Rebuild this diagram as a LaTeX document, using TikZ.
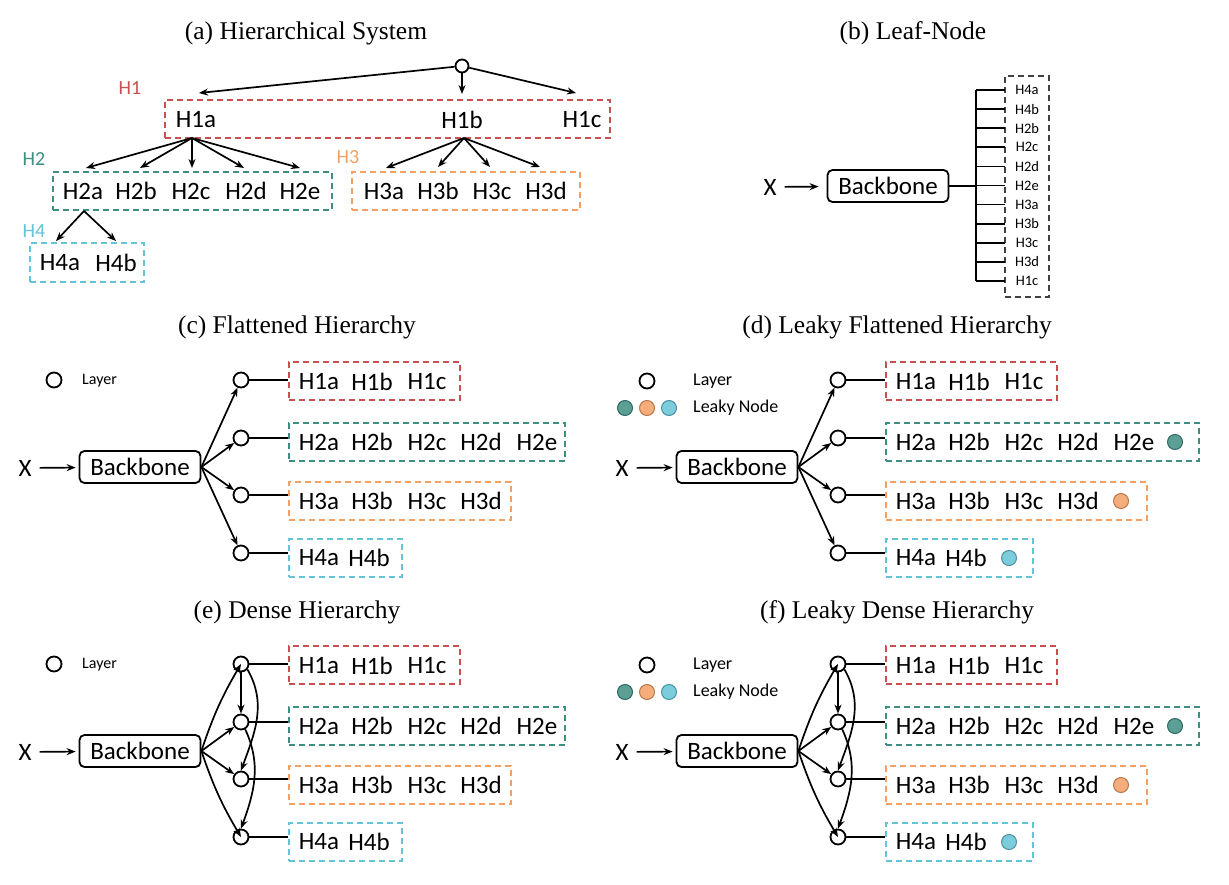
\documentclass[tikz,border=0pt]{standalone}
\usepackage{fontspec}
\setmainfont{Liberation Serif}
\newfontfamily\carl{Carlito}
\usetikzlibrary{arrows.meta,calc}
\definecolor{hred}{HTML}{C85050}
\definecolor{hteal}{HTML}{3E8E82}
\definecolor{horange}{HTML}{F3A064}
\definecolor{hcyan}{HTML}{64C3D7}
\definecolor{hgray}{HTML}{404040}
\tikzset{
 ttl/.style={font=\fontsize{25.5}{30}\selectfont, inner sep=0},
 lbl/.style={font=\carl\fontsize{25}{28}\selectfont, inner sep=0},
 hlvl/.style={font=\carl\fontsize{20}{24}\selectfont, inner sep=0},
 leafl/.style={font=\carl\fontsize{14.5}{16}\selectfont, inner sep=0},
 legtxt/.style={font=\carl\fontsize{17}{20}\selectfont, inner sep=0, anchor=west},
 hbox/.style={draw=#1, dash pattern=on 6pt off 4pt, line width=1.8pt, minimum height=38pt, inner sep=0},
 layer/.style={circle, draw, line width=1.8pt, minimum size=15pt, inner sep=0, fill=white},
 leaky/.style={circle, draw=#1!75!black, fill=#1!85!white, line width=1pt, minimum size=15pt, inner sep=0},
 arr/.style={-{Stealth[length=9pt,width=7pt]}, line width=1.7pt},
 ln/.style={line width=1.7pt},
 bbox/.style={draw, rounded corners=5pt, line width=1.8pt, minimum width=121pt, minimum height=32pt, inner sep=0, font=\carl\fontsize{25}{28}\selectfont},
}
% #1 width box2, #2 width box3, #3 width box4, #4 leaky (0/1), #5 dense (0/1)
\newcommand\flatpanel[5]{%
 \node[lbl] (X) at (25,468) {X};
 \node[bbox] (bb) at (140,467) {Backbone};
 \draw[arr, shorten <=8pt, shorten >=3pt] (X) -- (bb);
 \node[layer] (L1) at (241,380) {};
 \node[layer] (L2) at (241,438) {};
 \node[layer] (L3) at (241,495) {};
 \node[layer] (L4) at (241,553) {};
 \node[hbox=hred, minimum width=171pt] (B1) at (374.5,381) {};
 \node[hbox=hteal, minimum width=#1pt] (B2) at ({289+#1/2},442) {};
 \node[hbox=horange, minimum width=#2pt] (B3) at ({289+#2/2},501) {};
 \node[hbox=hcyan, minimum width=#3pt] (B4) at ({289+#3/2},558) {};
 \node[lbl] (t1a) at (319,382) {H1a};
 \node[lbl] (t1b) at (372,382) {H1b};
 \node[lbl] (t1c) at (427,382) {H1c};
 \node[lbl] (t2a) at (319,442) {H2a};
 \node[lbl] (t2b) at (372,442) {H2b};
 \node[lbl] (t2c) at (427,442) {H2c};
 \node[lbl] (t2d) at (481,442) {H2d};
 \node[lbl] (t2e) at (537,442) {H2e};
 \node[lbl] (t3a) at (319,501) {H3a};
 \node[lbl] (t3b) at (372,501) {H3b};
 \node[lbl] (t3c) at (427,501) {H3c};
 \node[lbl] (t3d) at (481,501) {H3d};
 \node[lbl] (t4a) at (319,558) {H4a};
 \node[lbl] (t4b) at (369,558) {H4b};
 \draw[ln] (L1.east) -- (L1 -| B1.west);
 \draw[ln] (L2.east) -- (L2 -| B2.west);
 \draw[ln] (L3.east) -- (L3 -| B3.west);
 \draw[ln] (L4.east) -- (L4 -| B4.west);
 \ifnum#5=1
  \draw[arr] (bb.east) to[bend left=6] (L1);
  \draw[arr] (bb.east) -- (L2);
  \draw[arr] (bb.east) -- (L3);
  \draw[arr] (bb.east) to[bend right=6] (L4);
  \draw[arr] (L1) -- (L2);
  \draw[arr] (L1.-40) to[out=-60,in=70] (L3.north);
  \draw[arr] (L2.-60) to[out=-65,in=70] (L4.north);
 \else
  \draw[arr] (bb.east) -- (L1);
  \draw[arr] (bb.east) -- (L2);
  \draw[arr] (bb.east) -- (L3);
  \draw[arr] (bb.east) -- (L4);
 \fi
 \ifnum#4=1
  \node[layer] (lg0) at (50,381) {};
  \node[legtxt, font=\carl\fontsize{18}{20}\selectfont] (lgt0) at (96,381) {Layer};
  \node[leaky=hteal] (lg1) at (28,408) {};
  \node[leaky=horange] (lg2) at (50,408) {};
  \node[leaky=hcyan] (lg3) at (72,408) {};
  \node[legtxt, font=\carl\fontsize{18}{20}\selectfont] (lgt1) at (96,408) {Leaky Node};
  \node[leaky=hteal] (k2) at (578,442) {};
  \node[leaky=horange] (k3) at (524,501) {};
  \node[leaky=hcyan] (k4) at (412,558) {};
 \else
  \node[layer] (lg0) at (54,380) {};
  \node[legtxt, font=\carl\fontsize{16}{20}\selectfont] (lgt0) at (82,381) {Layer};
 \fi
}
\begin{document}
\begin{tikzpicture}[x=1pt,y=-1pt]
\useasboundingbox[fill=white] (0,0) rectangle (1229,885);
% ---------- (a)
\node[ttl] (ta) at (306,33) {(a) Hierarchical System};
\node[layer, minimum size=13pt] (root) at (462,66) {};
\node[hlvl, text=hred] (lh1) at (130,88) {H1};
\node[hbox=hred, minimum width=445pt] (a1) at (387.5,119) {};
\node[lbl] (a1a) at (196,120) {H1a};
\node[lbl] (a1b) at (462,120) {H1b};
\node[lbl] (a1c) at (582,120) {H1c};
\coordinate (e1a) at (199,93);
\coordinate (e1b) at (462,94);
\coordinate (e1c) at (576,93);
\draw[arr] (root) -- (e1a);
\draw[arr] (root) -- (e1b);
\draw[arr] (root) -- (e1c);
\node[hlvl, text=hteal] (lh2) at (34,159) {H2};
\node[hbox=hteal, minimum width=279pt] (a2) at (192.5,191) {};
\node[lbl] (a2a) at (83,191) {H2a};
\node[lbl] (a2b) at (136,191) {H2b};
\node[lbl] (a2c) at (191,191) {H2c};
\node[lbl] (a2d) at (246,191) {H2d};
\node[lbl] (a2e) at (300,191) {H2e};
\coordinate (s2) at (192,138);
\coordinate (e2a) at (86,168);
\coordinate (e2b) at (140,168);
\coordinate (e2c) at (192,168);
\coordinate (e2d) at (244,168);
\coordinate (e2e) at (300,168);
\foreach \k in {a,b,c,d,e} {\draw[arr] (s2) -- (e2\k);}
\node[hlvl, text=horange] (lh3) at (348,157) {H3};
\node[hbox=horange, minimum width=228pt] (a3) at (466,191) {};
\node[lbl] (a3a) at (384,191) {H3a};
\node[lbl] (a3b) at (438,191) {H3b};
\node[lbl] (a3c) at (492,191) {H3c};
\node[lbl] (a3d) at (546,191) {H3d};
\coordinate (s3) at (464,138);
\coordinate (e3a) at (386,168);
\coordinate (e3b) at (438,167);
\coordinate (e3c) at (490,167);
\coordinate (e3d) at (540,167);
\foreach \k in {a,b,c,d} {\draw[arr] (s3) -- (e3\k);}
\node[hlvl, text=hcyan] (lh4) at (34,231) {H4};
\node[hbox=hcyan, minimum width=114pt, minimum height=39pt] (a4) at (87,262.5) {};
\node[lbl] (a4a) at (60,263) {H4a};
\node[lbl] (a4b) at (116,263) {H4b};
\coordinate (s4) at (84,211);
\coordinate (e4a) at (56,241);
\coordinate (e4b) at (116,241);
\draw[arr] (s4) -- (e4a);
\draw[arr] (s4) -- (e4b);
% ---------- (b)
\node[ttl] (tb) at (913,33) {(b) Leaf-Node};
\node[lbl] (xb) at (770,187) {X};
\node[bbox] (bbb) at (888,186) {Backbone};
\draw[arr, shorten <=8pt, shorten >=8pt] (xb) -- (bbb);
\coordinate (bus) at (976,186);
\draw[ln] (bbb.east) -- (bus);
\node[hbox=hgray, minimum width=44pt, minimum height=221pt] (lb) at (1027,186.5) {};
\foreach \i/\nm in {0/H4a,1/H4b,2/H2b,3/H2c,4/H2d,5/H2e,6/H3a,7/H3b,8/H3c,9/H3d,10/H1c} {
  \pgfmathsetmacro\yy{90+19.1*\i}
  \node[leafl] (lf\i) at (1027,\yy) {\nm};
  \coordinate (bt\i) at (976,\yy);
  \coordinate (lt\i) at (1005,\yy);
  \draw[ln] (bt\i) -- (lt\i);
}
\draw[ln] (bt0) -- (bt10);
% ---------- (c)-(f)
\node[ttl] (tc) at (297,327) {(c) Flattened Hierarchy};
\node[ttl] (td) at (897,327) {(d) Leaky Flattened Hierarchy};
\node[ttl] (te) at (297,612) {(e) Dense Hierarchy};
\node[ttl] (tf) at (897,612) {(f) Leaky Dense Hierarchy};
\begin{scope}[name prefix=c-]
 \flatpanel{276}{222}{113}{0}{0}
\end{scope}
\begin{scope}[shift={(597,0)}, name prefix=d-]
 \flatpanel{313}{261}{147}{1}{0}
\end{scope}
\begin{scope}[shift={(0,284)}, name prefix=e-]
 \flatpanel{276}{222}{113}{0}{1}
\end{scope}
\begin{scope}[shift={(597,284)}, name prefix=f-]
 \flatpanel{313}{261}{147}{1}{1}
\end{scope}
\end{tikzpicture}
\end{document}
